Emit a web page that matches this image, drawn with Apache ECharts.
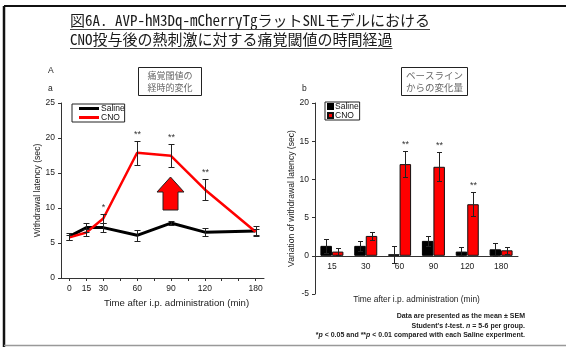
<!DOCTYPE html>
<html><head><meta charset="utf-8">
<script src="https://cdn.jsdelivr.net/npm/echarts@6/dist/echarts.min.js"></script>
<style>html,body{margin:0;padding:0;background:#fff}#c{width:566px;height:347px}</style>
</head><body><div id="c"></div>
<script>
// ---------- Panel a : time course ----------
const timeCats = ['0','15','30','45','60','75','90','105','120','135','150','180'];
const timeLabelsShown = ['0','15','30','60','90','120','180'];
const salineA    = [5.95, 7.2, 7.2, null, 6.1, null, 7.85, null, 6.55, null, null, 6.7];
const salineAErr = [0.55, 0.6, 0.6, null, 0.75, null, 0.3, null, 0.55, null, null, 0.7];
const cnoA       = [5.8, 6.5, 8.5, null, 17.9, null, 17.45, null, 12.65, null, null, 6.6];
const cnoAErr    = [0.3, 0.5, 0.6, null, 1.7, null, 1.65, null, 1.55, null, null, 0.4];
const starsA     = ['', '', '*', '', '**', '', '**', '', '**', '', '', ''];
const yTicksA = {min: 0, max: 25, interval: 5};

// ---------- Panel b : change from baseline ----------
const bCats     = ['15','30','60','90','120','180'];
const salineB    = [1.3, 1.3, 0.2, 1.95, 0.55, 0.85];
const salineBErr = [0.9, 0.65, 1.1, 0.7, 0.55, 0.85];
const cnoB       = [0.55, 2.6, 12.0, 11.65, 6.75, 0.72];
const cnoBErr    = [0.45, 0.55, 1.7, 1.9, 1.55, 0.47];
const starsB     = ['', '', '**', '**', '**', ''];
const yTicksB = {min: -5, max: 20, interval: 5};

const FONT = '"Liberation Sans", Arial, sans-serif';
const CJK = '"Noto Sans Mono CJK JP", "Noto Sans CJK JP", sans-serif';

const gridB = {left: 315, top: 103, width: 203, height: 191};
// x-axis of panel b sits on the zero line
const zeroOffsetB = -(0 - yTicksB.min) / (yTicksB.max - yTicksB.min) * gridB.height;

function errData(means, errs, stars) {
  const data = [], st = [];
  means.forEach((m, i) => {
    if (m === null) return;
    data.push([i, m - errs[i], m + errs[i]]);
    st.push(stars ? stars[i] : '');
  });
  return {data, st};
}
function makeErrRender(offsetFrac, capHalf, st) {
  return function (params, api) {
    const idx = api.value(0);
    const lo = api.coord([idx, api.value(1)]);
    const hi = api.coord([idx, api.value(2)]);
    const catW = api.size([1, 0])[0];
    const x = Math.round(lo[0] + offsetFrac * catW) + 0.5;
    const ly = Math.round(lo[1]) + 0.5, hy = Math.round(hi[1]) + 0.5;
    const sty = {stroke: '#222', lineWidth: 1};
    const children = [
      {type: 'line', shape: {x1: x, y1: ly, x2: x, y2: hy}, style: sty},
      {type: 'line', shape: {x1: x - capHalf, y1: ly, x2: x + capHalf, y2: ly}, style: sty},
      {type: 'line', shape: {x1: x - capHalf, y1: hy, x2: x + capHalf, y2: hy}, style: sty}
    ];
    const s = st[params.dataIndex];
    if (s) children.push({type: 'text', x: x, y: hy - 2,
      style: {text: s, align: 'center', verticalAlign: 'bottom', font: '9px ' + FONT, fill: '#333'}});
    return {type: 'group', children};
  };
}
const eSA = errData(salineA, salineAErr, null);
const eCA = errData(cnoA, cnoAErr, starsA);
const eSB = errData(salineB, salineBErr, null);
const eCB = errData(cnoB, cnoBErr, starsB);

const axisLineStyle = {color: '#333', width: 1};
const tickLabel = {fontSize: 8.5, color: '#222', fontFamily: FONT};

// title widths for underline
const TITLE_FONT = '15px ' + CJK;
const mctx = document.createElement('canvas').getContext('2d');
mctx.font = TITLE_FONT;
const title1 = '図6A. AVP-hM3Dq-mCherryTgラットSNLモデルにおける';
const title2 = 'CNO投与後の熱刺激に対する痛覚閾値の時間経過';
const w1 = mctx.measureText(title1).width, w2 = mctx.measureText(title2).width;

const chart = echarts.init(document.getElementById('c'), null, {renderer: 'canvas'});
chart.setOption({
  animation: false,
  backgroundColor: '#fff',
  grid: [
    {left: 61, top: 103, width: 203, height: 175},
    gridB
  ],
  xAxis: [
    {type: 'category', gridIndex: 0, data: timeCats, boundaryGap: true,
     axisLine: {lineStyle: axisLineStyle},
     axisTick: {show: true, alignWithLabel: true, interval: 0, length: 3, lineStyle: {color: '#333'}},
     axisLabel: Object.assign({interval: 0, margin: 6,
       formatter: v => timeLabelsShown.includes(v) ? v : ''}, tickLabel),
     name: 'Time after i.p. administration (min)', nameLocation: 'middle', nameGap: 16,
     nameTextStyle: {fontSize: 9.6, color: '#222', fontFamily: FONT, padding: [0, 0, 0, 28]}},
    {type: 'category', gridIndex: 1, data: bCats, boundaryGap: true,
     offset: zeroOffsetB,
     axisLine: {onZero: false, lineStyle: axisLineStyle},
     axisTick: {show: false},
     axisLabel: Object.assign({interval: 0, margin: 6}, tickLabel),
     name: 'Time after i.p. administration (min)', nameLocation: 'middle', nameGap: 40,
     nameTextStyle: {fontSize: 8.4, color: '#222', fontFamily: FONT}}
  ],
  yAxis: [
    Object.assign({type: 'value', gridIndex: 0,
     axisLine: {show: true, lineStyle: axisLineStyle},
     axisTick: {show: true, length: 3, lineStyle: {color: '#333'}},
     splitLine: {show: false},
     axisLabel: Object.assign({margin: 6}, tickLabel),
     name: 'Withdrawal latency (sec)', nameLocation: 'middle', nameGap: 19, nameRotate: 90,
     nameTextStyle: {fontSize: 8.6, color: '#222', fontFamily: FONT}}, yTicksA),
    Object.assign({type: 'value', gridIndex: 1,
     axisLine: {show: true, onZero: false, lineStyle: axisLineStyle},
     axisTick: {show: true, length: 3, lineStyle: {color: '#333'}},
     splitLine: {show: false},
     axisLabel: Object.assign({margin: 6}, tickLabel),
     name: 'Variation of withdrawal latency (sec)', nameLocation: 'middle', nameGap: 15, nameRotate: 90,
     nameTextStyle: {fontSize: 8.6, color: '#222', fontFamily: FONT}}, yTicksB)
  ],
  legend: [
    {orient: 'vertical', left: 72, top: 104, data: ['Saline|a', 'CNO|a'],
     formatter: n => n.split('|')[0], icon: 'rect', itemWidth: 20, itemHeight: 3, itemGap: 0,
     padding: [0, 0, 0, 7], borderColor: '#222', borderWidth: 1, selectedMode: false,
     textStyle: {fontSize: 8.5, color: '#111', fontFamily: FONT, padding: [0, 0, 0, -3]}},
    {orient: 'vertical', left: 325, top: 102, data: ['Saline|b', 'CNO|b'],
     formatter: n => n.split('|')[0], icon: 'rect', itemWidth: 5, itemHeight: 5, itemGap: 0,
     padding: [0, 1, 0, 2], borderColor: '#222', borderWidth: 1, selectedMode: false,
     textStyle: {fontSize: 8.5, color: '#111', fontFamily: FONT, padding: [0, 0, 0, -3]}}
  ],
  series: [
    {name: 'Saline|a', type: 'line', xAxisIndex: 0, yAxisIndex: 0, data: salineA, connectNulls: true,
     symbol: 'none', color: '#000', lineStyle: {color: '#000', width: 3}, z: 3},
    {name: 'CNO|a', type: 'line', xAxisIndex: 0, yAxisIndex: 0, data: cnoA, connectNulls: true,
     symbol: 'none', color: '#ff0000', lineStyle: {color: '#ff0000', width: 2.5}, z: 4},
    {type: 'custom', xAxisIndex: 0, yAxisIndex: 0, data: eSA.data, renderItem: makeErrRender(0, 3, eSA.st), z: 10, silent: true},
    {type: 'custom', xAxisIndex: 0, yAxisIndex: 0, data: eCA.data, renderItem: makeErrRender(0, 3, eCA.st), z: 10, silent: true},
    {name: 'Saline|b', type: 'bar', xAxisIndex: 1, yAxisIndex: 1, data: salineB, barGap: 0, barCategoryGap: '32%',
     color: '#000', itemStyle: {color: '#000', borderColor: '#000', borderWidth: 1}},
    {name: 'CNO|b', type: 'bar', xAxisIndex: 1, yAxisIndex: 1, data: cnoB, barGap: 0, barCategoryGap: '32%',
     color: '#ff0000', itemStyle: {color: '#ff0000', borderColor: '#111', borderWidth: 1}},
    {type: 'custom', xAxisIndex: 1, yAxisIndex: 1, data: eSB.data, renderItem: makeErrRender(-0.17, 2.5, eSB.st), z: 10, silent: true},
    {type: 'custom', xAxisIndex: 1, yAxisIndex: 1, data: eCB.data, renderItem: makeErrRender(0.17, 2.5, eCB.st), z: 10, silent: true}
  ],
  graphic: [
    // frame
    {type: 'line', shape: {x1: 4, y1: 6, x2: 566, y2: 6}, style: {stroke: '#111', lineWidth: 2}},
    {type: 'line', shape: {x1: 4, y1: 6, x2: 4, y2: 347}, style: {stroke: '#111', lineWidth: 2.5}},
    {type: 'line', shape: {x1: 4, y1: 345.5, x2: 566, y2: 345.5}, style: {stroke: '#999', lineWidth: 1.5}},
    // title
    {type: 'text', left: 70, top: 13, style: {text: title1, font: TITLE_FONT, fill: '#1a1a1a'}},
    {type: 'text', left: 70, top: 32, style: {text: title2, font: TITLE_FONT, fill: '#1a1a1a'}},
    {type: 'line', shape: {x1: 70, y1: 29.5, x2: 70 + w1, y2: 29.5}, style: {stroke: '#444', lineWidth: 1}},
    {type: 'line', shape: {x1: 70, y1: 48.5, x2: 70 + w2, y2: 48.5}, style: {stroke: '#444', lineWidth: 1}},
    // panel letters
    {type: 'text', left: 48, top: 66, style: {text: 'A', font: '8.5px ' + FONT, fill: '#222'}},
    {type: 'text', left: 48, top: 84, style: {text: 'a', font: '8.5px ' + FONT, fill: '#222'}},
    {type: 'text', left: 302, top: 84, style: {text: 'b', font: '8.5px ' + FONT, fill: '#222'}},
    // annotation boxes
    {type: 'rect', shape: {x: 138.5, y: 67.5, width: 63, height: 28}, style: {fill: '#fff', stroke: '#222', lineWidth: 1}},
    {type: 'text', x: 170, y: 81.5, style: {text: '痛覚閾値の\n経時的変化', font: '9px "Noto Sans CJK JP", sans-serif',
      fill: '#666', align: 'center', verticalAlign: 'middle', lineHeight: 12}},
    {type: 'rect', shape: {x: 401.5, y: 67.5, width: 66, height: 28}, style: {fill: '#fff', stroke: '#222', lineWidth: 1}},
    {type: 'text', x: 434.5, y: 81.5, style: {text: 'ベースライン\nからの変化量', font: '9.5px "Noto Sans CJK JP", sans-serif',
      fill: '#666', align: 'center', verticalAlign: 'middle', lineHeight: 12}},
    // red arrow
    {type: 'polygon', shape: {points: [[170.5, 177], [184, 192], [178, 192], [178, 210], [163, 210], [163, 192], [157, 192]]},
     style: {fill: '#ff0000', stroke: '#222', lineWidth: 1}, z: 5},
    // footnotes
    {type: 'text', x: 525, y: 316.5, style: {text: 'Data are presented as the mean ± SEM', font: 'bold 7px ' + FONT,
      fill: '#222', align: 'right', verticalAlign: 'middle'}},
    {type: 'text', x: 525, y: 326, style: {rich: {b: {font: 'bold 7px ' + FONT, fill: '#222'}, i: {font: 'italic bold 7px ' + FONT, fill: '#222'}},
      text: "{b|Student's }{i|t}{b|-test. }{i|n}{b| = 5-6 per group.}", align: 'right', verticalAlign: 'middle'}},
    {type: 'text', x: 525, y: 335, style: {rich: {b: {font: 'bold 7px ' + FONT, fill: '#222'}, i: {font: 'italic bold 7px ' + FONT, fill: '#222'}},
      text: '{b|*}{i|p}{b| < 0.05 and **}{i|p}{b| < 0.01 compared with each Saline experiment.}', align: 'right', verticalAlign: 'middle'}}
  ]
});
</script>
</body></html>
